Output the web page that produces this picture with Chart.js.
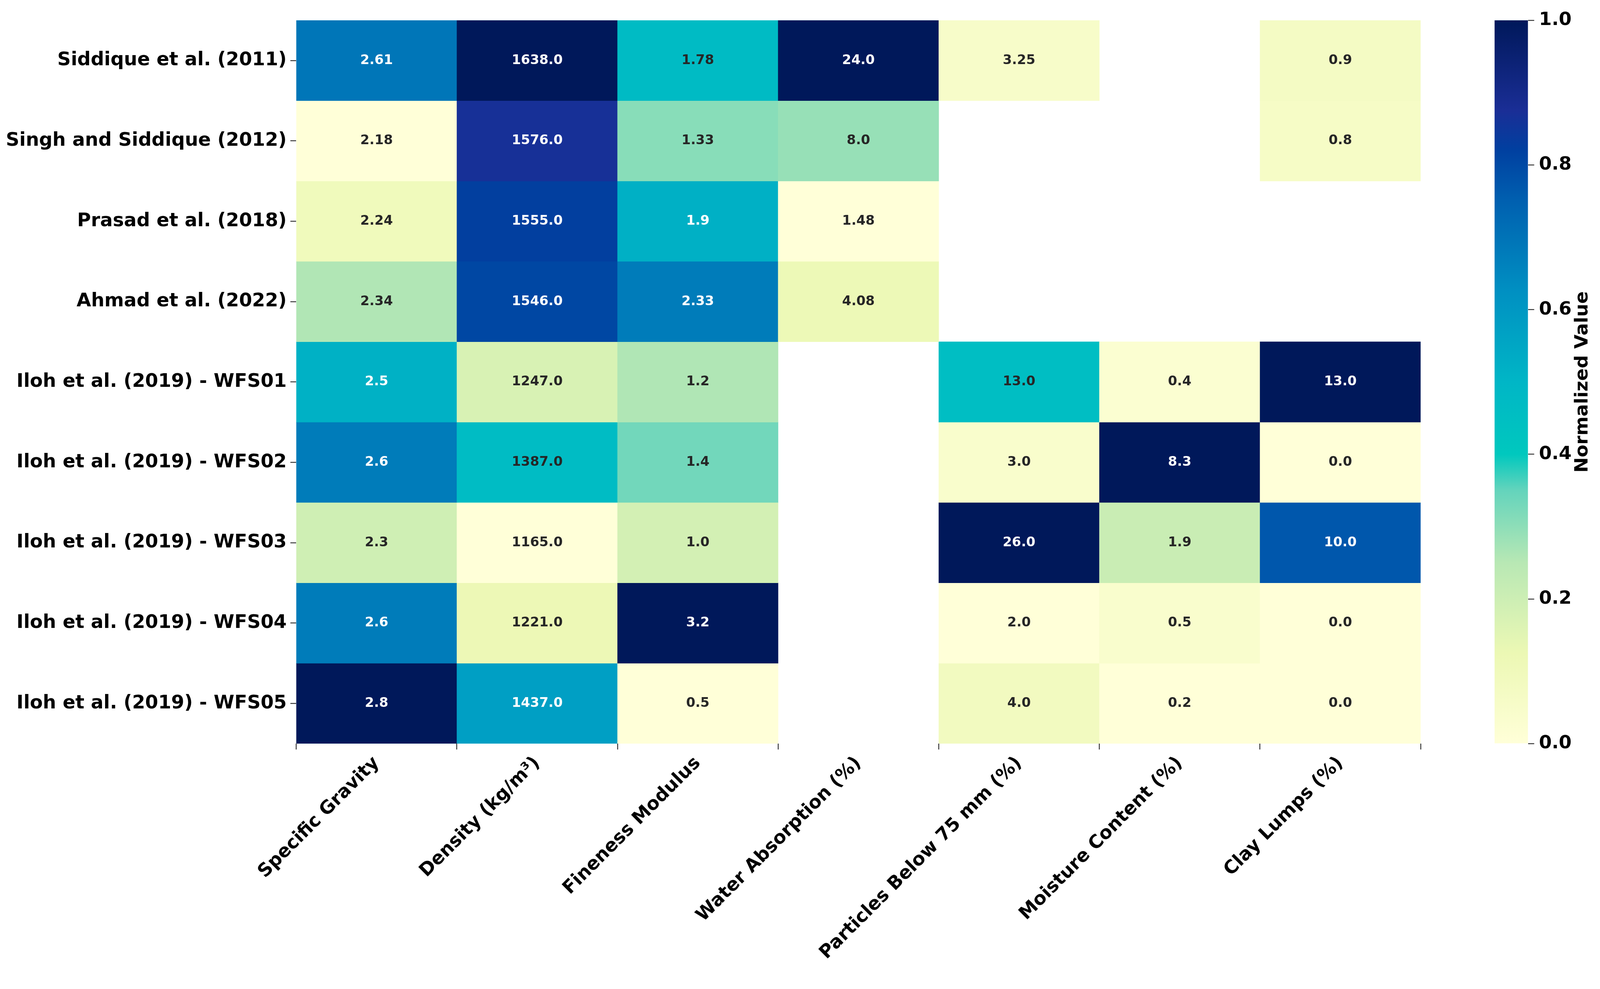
<!DOCTYPE html>
<html>
<head>
<meta charset="utf-8">
<script src="https://cdn.jsdelivr.net/npm/chart.js@4.4.1/dist/chart.umd.min.js"></script>
<style>
  html, body { margin: 0; padding: 0; background: #fff; overflow: hidden; width: 100%; height: 100%; }
  #wrap { position: relative; width: 100%; height: 100%; }
  #heat, #cbar { position: absolute; top: 0; }
  #heat { left: 0; }
</style>
</head>
<body>
<div id="wrap">
  <canvas id="heat"></canvas>
  <canvas id="cbar"></canvas>
</div>
<script>
// studies (rows) and properties (columns)
const studies = [
  'Siddique et al. (2011)',
  'Singh and Siddique (2012)',
  'Prasad et al. (2018)',
  'Ahmad et al. (2022)',
  'Iloh et al. (2019) - WFS01',
  'Iloh et al. (2019) - WFS02',
  'Iloh et al. (2019) - WFS03',
  'Iloh et al. (2019) - WFS04',
  'Iloh et al. (2019) - WFS05'
];
const properties = [
  'Specific Gravity',
  'Density (kg/m³)',
  'Fineness Modulus',
  'Water Absorption (%)',
  'Particles Below 75 mm (%)',
  'Moisture Content (%)',
  'Clay Lumps (%)'
];

// one array per property, in study order (null = not reported)
const specificGravity  = [2.61, 2.18, 2.24, 2.34, 2.5, 2.6, 2.3, 2.6, 2.8];
const density          = [1638, 1576, 1555, 1546, 1247, 1387, 1165, 1221, 1437];
const finenessModulus  = [1.78, 1.33, 1.9, 2.33, 1.2, 1.4, 1.0, 3.2, 0.5];
const waterAbsorption  = [24.0, 8.0, 1.48, 4.08, null, null, null, null, null];
const particlesBelow75 = [3.25, null, null, null, 13.0, 3.0, 26.0, 2.0, 4.0];
const moistureContent  = [null, null, null, null, 0.4, 8.3, 1.9, 0.5, 0.2];
const clayLumps        = [0.9, 0.8, null, null, 13.0, 0.0, 10.0, 0.0, 0.0];

const colorbarTicks = [0, 0.2, 0.4, 0.6, 0.8, 1.0];

// YlGnBu-like colour stops, as they look in the picture
const cmapPos = [0, 0.125, 0.25, 0.35, 0.4, 0.5, 0.625, 0.75, 0.82, 0.875, 1];
const cmapHex = ['#ffffd8', '#ecf8b4', '#b8e8b4', '#64d4bc', '#00c8be', '#00b6c6',
                 '#0090c2', '#0060b0', '#0040a0', '#1a2e96', '#00185a'];

const columns = [specificGravity, density, finenessModulus, waterAbsorption,
                 particlesBelow75, moistureContent, clayLumps];

function hexRgb(h) {
  return [1, 3, 5].map(i => parseInt(h.slice(i, i + 2), 16));
}
function cmap(v) {
  v = Math.max(0, Math.min(1, v));
  let i = 0;
  while (i < cmapPos.length - 2 && v > cmapPos[i + 1]) i++;
  const t = (v - cmapPos[i]) / (cmapPos[i + 1] - cmapPos[i]);
  const a = hexRgb(cmapHex[i]), b = hexRgb(cmapHex[i + 1]);
  const c = a.map((x, k) => Math.round(x + (b[k] - x) * t));
  return `rgb(${c[0]},${c[1]},${c[2]})`;
}

// min-max normalisation per column
const norm = columns.map(col => {
  const vals = col.filter(v => v !== null);
  const lo = Math.min(...vals), hi = Math.max(...vals);
  return col.map(v => v === null ? null : (v - lo) / (hi - lo));
});

function fmt(v) {
  return Number.isInteger(v) ? v.toFixed(1) : String(v);
}

function draw() {
  // layout was measured on a 4353 x 2531 picture; scale to the real viewport
  let W = document.documentElement.clientWidth || window.innerWidth;
  let H = document.documentElement.clientHeight || window.innerHeight;
  if (!W || W < 200) W = 4353;
  if (!H || H < 200) H = 2531;
  const sx = W / 4353, sy = H / 2531, sk = Math.min(sx, sy);
  const X = v => v * sx, Y = v => v * sy, K = v => v * sk;

  Chart.defaults.font.family = "'DejaVu Sans', sans-serif";
  Chart.defaults.font.weight = 'bold';
  Chart.defaults.color = '#000';

  const heatCanvas = document.getElementById('heat');
  heatCanvas.width = Math.round(W);
  heatCanvas.height = Math.round(H);
  const cbarCanvas = document.getElementById('cbar');
  cbarCanvas.style.left = X(3950) + 'px';
  cbarCanvas.width = Math.round(X(403));
  cbarCanvas.height = Math.round(H);

  // one bar dataset per study row, floating from r to r+1
  const datasets = studies.map((name, r) => ({
    label: name,
    data: properties.map((p, j) => columns[j][r] === null ? null : [r, r + 1]),
    backgroundColor: properties.map((p, j) => norm[j][r] === null ? 'transparent' : cmap(norm[j][r])),
    borderWidth: 0,
    grouped: false,
    barPercentage: 1,
    categoryPercentage: 1
  }));

  const annotate = {
    id: 'annotate',
    afterDatasetsDraw(chart) {
      const ctx = chart.ctx;
      ctx.save();
      ctx.font = `bold ${K(36)}px 'DejaVu Sans'`;
      ctx.textAlign = 'center';
      ctx.textBaseline = 'middle';
      chart.data.datasets.forEach((ds, r) => {
        chart.getDatasetMeta(r).data.forEach((el, j) => {
          const v = columns[j][r];
          if (v === null) return;
          ctx.fillStyle = norm[j][r] > 0.49 ? '#ffffff' : '#262626';
          ctx.fillText(fmt(v), el.x, (el.y + el.base) / 2);
        });
      });
      ctx.restore();
    }
  };

  new Chart(heatCanvas, {
    type: 'bar',
    data: { labels: properties, datasets: datasets },
    plugins: [annotate],
    options: {
      responsive: false,
      animation: false,
      layout: { padding: { top: Y(52), right: X(488), left: 0, bottom: 0 } },
      plugins: { legend: { display: false }, tooltip: { enabled: false } },
      scales: {
        x: {
          type: 'category',
          grid: { drawOnChartArea: false, tickLength: K(16), tickColor: '#333', lineWidth: K(2.5) },
          border: { display: false },
          ticks: { font: { size: K(50), weight: 'bold' }, minRotation: 45, maxRotation: 45,
                   autoSkip: false, padding: K(8) },
          afterFit: s => { s.height = Y(628); }
        },
        y: {
          type: 'linear',
          min: 0,
          max: studies.length,
          reverse: true,
          grid: { drawOnChartArea: false, tickLength: K(16), tickColor: '#333', lineWidth: K(2.5) },
          border: { display: false },
          afterBuildTicks: s => { s.ticks = studies.map((n, i) => ({ value: i + 0.5 })); },
          ticks: { font: { size: K(51), weight: 'bold' }, autoSkip: false, padding: K(10),
                   callback: v => studies[Math.floor(v)] },
          afterFit: s => { s.width = X(806); }
        }
      }
    }
  });

  // colour bar
  const cbarTitle = {
    id: 'cbarTitle',
    afterDraw(chart) {
      const a = chart.chartArea, s = chart.scales.y, ctx = chart.ctx;
      ctx.save();
      ctx.translate(s.left + X(149), (a.top + a.bottom) / 2);
      ctx.rotate(-Math.PI / 2);
      ctx.font = `bold ${K(50)}px 'DejaVu Sans'`;
      ctx.fillStyle = '#000';
      ctx.textAlign = 'center';
      ctx.textBaseline = 'middle';
      ctx.fillText('Normalized Value', 0, 0);
      ctx.restore();
    }
  };

  new Chart(cbarCanvas, {
    type: 'bar',
    data: {
      labels: [''],
      datasets: [{
        data: [[0, 1]],
        backgroundColor: c => {
          const a = c.chart.chartArea;
          if (!a) return null;
          const g = c.chart.ctx.createLinearGradient(0, a.bottom, 0, a.top);
          cmapPos.forEach((p, i) => g.addColorStop(p, cmapHex[i]));
          return g;
        },
        borderWidth: 0,
        barPercentage: 1,
        categoryPercentage: 1
      }]
    },
    plugins: [cbarTitle],
    options: {
      responsive: false,
      animation: false,
      layout: { padding: { top: Y(52), bottom: Y(628), left: X(116), right: 0 } },
      plugins: { legend: { display: false }, tooltip: { enabled: false } },
      scales: {
        x: { display: false },
        y: {
          position: 'right',
          min: 0,
          max: 1,
          grid: { drawOnChartArea: false, tickLength: K(17), tickColor: '#333', lineWidth: K(2.5) },
          border: { display: false },
          afterBuildTicks: s => { s.ticks = colorbarTicks.map(v => ({ value: v })); },
          ticks: { font: { size: K(50), weight: 'bold' }, padding: K(13), callback: v => v.toFixed(1) },
          afterFit: s => { s.width = X(196); }
        }
      }
    }
  });
}

draw();
</script>
</body>
</html>
